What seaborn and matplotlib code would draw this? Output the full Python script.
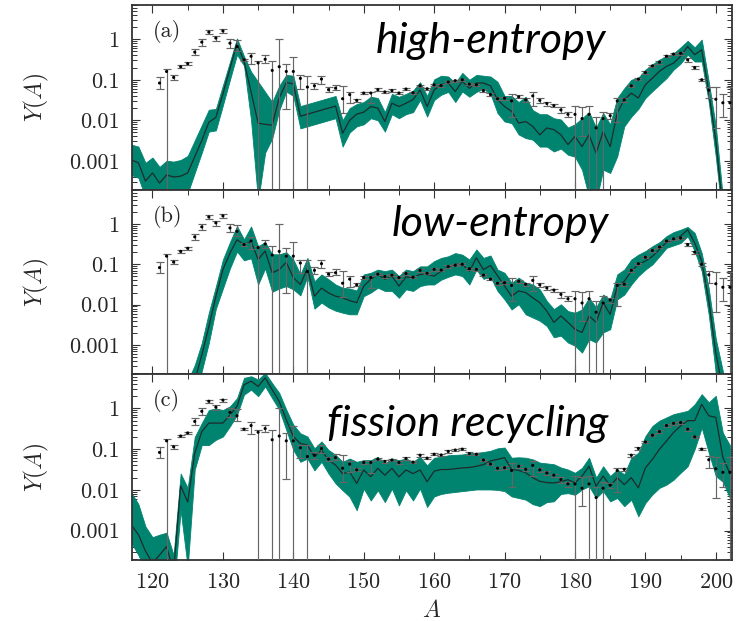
import numpy as np
import pandas as pd
import matplotlib
matplotlib.use("Agg")
import matplotlib.pyplot as plt
import seaborn as sns
from matplotlib.ticker import FixedLocator, LogLocator, NullFormatter, MultipleLocator, FixedFormatter

# ---------------- data ----------------
# solar r-process abundances (same in every panel)
A_solar = list(range(121, 203))
Y_solar = [0.083, 0.16, 0.114, 0.21, 0.25, 0.48, 0.85, 1.5, 1.07, 1.6,
           0.8, 0.66, 0.31, 0.38, 0.26, 0.32, 0.17, 0.21, 0.16, 0.16,
           0.108, 0.066, 0.071, 0.104, 0.057, 0.062, 0.034, 0.043, 0.031, 0.047,
           0.047, 0.057, 0.05, 0.054, 0.047, 0.059, 0.048, 0.071, 0.06, 0.075,
           0.072, 0.088, 0.095, 0.10, 0.078, 0.075, 0.054, 0.043, 0.034, 0.035,
           0.03, 0.038, 0.032, 0.04, 0.031, 0.026, 0.023, 0.018, 0.014, 0.014,
           0.011, 0.014, 0.0065, 0.011, 0.013, 0.03, 0.032, 0.071, 0.104, 0.15,
           0.22, 0.27, 0.38, 0.43, 0.45, 0.31, 0.2, 0.1, 0.055, 0.033,
           0.027, 0.027]
Y_solar_lo = [0.06, 1e-6, 0.10, 0.195, 0.23, 0.40, 0.70, 1.35, 0.90, 1.45,
              0.62, 0.50, 0.29, 0.24, 1e-6, 0.26, 1e-6, 1e-6, 0.019, 1e-6,
              0.06, 1e-6, 0.058, 0.08, 0.05, 0.055, 0.0155, 0.027, 0.029, 0.044,
              0.026, 0.053, 0.046, 0.05, 0.044, 0.055, 0.045, 0.066, 0.056, 0.07,
              0.067, 0.082, 0.089, 0.094, 0.073, 0.07, 0.05, 0.04, 0.031, 0.032,
              0.012, 0.035, 0.029, 0.022, 0.027, 0.023, 0.021, 0.015, 0.012, 1e-6,
              0.004, 1e-6, 1e-6, 1e-6, 0.011, 0.009, 0.029, 0.066, 0.097, 0.14,
              0.205, 0.25, 0.355, 0.40, 0.42, 0.28, 0.185, 0.093, 0.035, 0.0065,
              0.012, 1e-6]
Y_solar_hi = [0.115, 0.18, 0.13, 0.225, 0.27, 0.57, 1.0, 1.65, 1.20, 1.75,
              1.0, 0.95, 0.33, 0.47, 0.29, 0.40, 0.29, 1.0, 0.25, 0.36,
              0.13, 0.125, 0.085, 0.125, 0.065, 0.075, 0.07, 0.05, 0.034, 0.05,
              0.05, 0.061, 0.054, 0.058, 0.05, 0.063, 0.051, 0.076, 0.064, 0.08,
              0.077, 0.094, 0.101, 0.106, 0.083, 0.08, 0.058, 0.046, 0.037, 0.038,
              0.045, 0.041, 0.035, 0.05, 0.035, 0.029, 0.025, 0.021, 0.016, 0.022,
              0.021, 0.022, 0.012, 0.016, 0.015, 0.035, 0.035, 0.076, 0.111, 0.16,
              0.235, 0.29, 0.405, 0.46, 0.48, 0.34, 0.215, 0.107, 0.068, 0.066,
              0.045, 0.065]

# model mass numbers
A_model = list(range(117, 203))

# panel (a) high-entropy: log10 of median / upper / lower
a_mid = [-2.98, -3.05, -3.5, -3.3, -3.55, -3.35, -3.4, -3.38, -3.3, -2.9,
         -2.5, -2.05, -1.93, -1.35, -0.72, -0.1, -0.55, -1.3, -2.07, -2.1,
         -2.12, -1.45, -1.07, -1.1, -1.9, -1.85, -1.8, -1.75, -1.7, -1.65,
         -2.32, -2.0, -1.85, -1.8, -1.66, -1.7, -2.03, -1.58, -1.66, -1.58,
         -1.49, -1.25, -1.66, -1.25, -1.12, -1.08, -1.29, -1.04, -1.21, -1.08,
         -1.08, -1.15, -1.49, -1.66, -1.78, -2.07, -2.03, -2.15, -2.36, -2.19,
         -2.23, -2.36, -2.6, -2.4, -2.65, -2.36, -2.81, -2.28, -2.65, -1.82,
         -1.49, -1.33, -1.45, -1.12, -0.96, -0.79, -0.67, -0.59, -0.42, -0.18,
         -0.38, -0.26, -1.3, -2.5, -4.2, -5.0]
a_hi = [-2.6, -2.65, -3.05, -2.92, -3.15, -3.0, -3.02, -2.98, -2.88, -2.5,
        -2.12, -1.74, -1.72, -1.14, -0.56, 0.02, -0.42, -0.8, -1.05, -1.3,
        -1.55, -1.15, -0.88, -0.9, -1.65, -1.6, -1.55, -1.5, -1.45, -1.4,
        -2.0, -1.7, -1.6, -1.55, -1.42, -1.45, -1.8, -1.35, -1.42, -1.35,
        -1.27, -1.06, -1.4, -0.99, -0.9, -0.92, -1.08, -0.83, -1.0, -0.88,
        -0.9, -0.92, -1.05, -1.4, -1.4, -1.55, -1.42, -1.75, -1.85, -1.85,
        -1.95, -1.98, -2.18, -2.1, -1.95, -1.8, -2.18, -1.82, -2.1, -1.45,
        -1.21, -1.0, -0.95, -0.75, -0.62, -0.5, -0.42, -0.35, -0.2, -0.04,
        -0.2, -0.01, -1.05, -2.15, -3.9, -4.7]
a_lo = [-3.35, -3.42, -3.9, -3.8, -3.95, -3.85, -3.9, -3.85, -3.8, -3.3,
        -2.8, -2.28, -2.25, -1.63, -1.0, -0.38, -0.65, -2.0, -4.0, -2.8,
        -2.45, -1.75, -1.29, -1.4, -2.2, -2.15, -2.1, -2.05, -2.0, -1.95,
        -2.65, -2.3, -2.15, -2.1, -1.95, -2.0, -2.28, -1.85, -1.95, -1.85,
        -1.8, -1.5, -1.91, -1.5, -1.37, -1.3, -1.55, -1.29, -1.42, -1.3,
        -1.22, -1.35, -1.82, -2.03, -2.07, -2.35, -2.44, -2.48, -2.65, -2.65,
        -2.77, -2.7, -2.85, -2.9, -3.22, -3.9, -4.0, -3.22, -3.3, -2.89,
        -2.15, -1.91, -1.72, -1.45, -1.28, -1.12, -0.96, -0.75, -0.6, -0.38,
        -0.55, -0.55, -1.55, -2.9, -4.5, -5.3]

# panel (b) low-entropy
b_mid = [-6.0, -6.0, -6.0, -6.0, -6.0, -5.9, -5.5, -4.9, -4.3, -3.9,
         -3.25, -2.55, -1.8, -1.13, -0.72, -0.39, -0.51, -0.43, -0.88, -0.67,
         -1.21, -1.13, -0.95, -1.33, -1.5, -1.1, -1.79, -1.59, -1.71, -1.79,
         -1.83, -1.9, -1.95, -1.54, -1.37, -1.25, -1.37, -1.29, -1.54, -1.31,
         -1.33, -1.25, -1.25, -1.29, -1.17, -1.06, -1.0, -1.0, -1.17, -0.84,
         -1.13, -1.03, -1.28, -1.54, -1.79, -1.66, -1.7, -1.83, -1.95, -2.16,
         -2.44, -2.28, -2.44, -2.61, -2.69, -2.28, -2.44, -1.95, -2.24, -1.54,
         -1.42, -1.17, -1.0, -0.92, -0.8, -0.63, -0.45, -0.39, -0.3, -0.14,
         -0.47, -0.92, -1.9, -3.2, -4.1, -5.0]
b_hi = [-5.6, -5.6, -5.6, -5.6, -5.6, -5.5, -5.1, -4.5, -3.9, -3.5,
        -2.95, -2.2, -1.55, -0.88, -0.45, -0.05, -0.38, -0.06, -0.55, -0.45,
        -0.75, -0.75, -0.7, -0.88, -1.25, -0.84, -1.42, -1.25, -1.37, -1.5,
        -1.58, -1.6, -1.65, -1.25, -1.21, -1.13, -1.17, -1.13, -1.29, -1.13,
        -1.17, -1.05, -1.05, -0.92, -0.84, -0.8, -0.72, -0.76, -0.88, -0.63,
        -0.84, -0.78, -1.13, -1.21, -1.46, -1.33, -1.46, -1.5, -1.62, -1.91,
        -2.11, -1.99, -2.16, -2.2, -2.12, -1.83, -2.07, -1.75, -1.87, -1.25,
        -1.13, -0.88, -0.76, -0.67, -0.55, -0.45, -0.3, -0.2, -0.14, -0.07,
        -0.22, -0.72, -1.6, -2.85, -3.65, -4.5]
b_lo = [-6.4, -6.4, -6.4, -6.4, -6.4, -6.3, -5.9, -5.3, -4.7, -4.3,
        -3.65, -2.95, -2.1, -1.6, -1.1, -0.68, -0.9, -0.85, -1.5, -1.1,
        -1.68, -1.6, -1.54, -1.62, -1.77, -1.3, -2.1, -1.95, -2.07, -2.15,
        -2.2, -2.24, -2.24, -1.79, -1.7, -1.58, -1.66, -1.66, -1.83, -1.62,
        -1.66, -1.54, -1.5, -1.5, -1.38, -1.31, -1.25, -1.29, -1.5, -1.13,
        -1.36, -1.31, -1.66, -1.87, -2.12, -1.99, -2.24, -2.32, -2.4, -2.53,
        -2.81, -2.77, -2.94, -3.02, -3.19, -2.86, -2.94, -2.69, -2.61, -1.87,
        -1.75, -1.5, -1.29, -1.13, -1.0, -0.8, -0.59, -0.53, -0.47, -0.3,
        -0.67, -1.17, -2.25, -3.7, -4.6, -5.5]

# panel (c) fission recycling
c_mid = [-2.86, -3.1, -3.5, -3.8, -3.6, -3.39, -4.0, -1.9, -2.3, -1.1,
         -0.57, -0.36, -0.36, -0.36, -0.16, 0.05, 0.58, 0.67, 0.54, 0.75,
         0.46, 0.17, -0.28, -0.69, -0.86, -0.9, -1.19, -1.02, -1.27, -1.39,
         -1.6, -1.56, -1.84, -1.51, -1.68, -1.47, -1.64, -1.47, -1.68, -1.51,
         -1.6, -1.51, -1.8, -1.54, -1.5, -1.5, -1.48, -1.46, -1.45, -1.42,
         -1.38, -1.29, -1.25, -1.21, -1.5, -1.52, -1.58, -1.7, -1.79, -1.82,
         -1.83, -1.8, -1.75, -1.83, -1.66, -1.42, -1.91, -1.66, -1.91, -1.7,
         -1.87, -1.7, -1.95, -1.46, -1.25, -1.0, -0.8, -0.59, -0.43, -0.3,
         -0.3, 0.1, -0.18, -0.22, -1.2, -1.6]
c_hi = [-2.07, -2.35, -2.9, -3.16, -3.1, -3.05, -3.6, -1.6, -1.95, -0.7,
        -0.36, -0.04, 0.0, -0.04, 0.05, 0.25, 0.75, 0.79, 0.71, 0.87,
        0.62, 0.38, -0.03, -0.4, -0.61, -0.69, -0.98, -0.81, -1.02, -1.14,
        -1.31, -1.23, -1.31, -1.27, -1.27, -1.19, -1.35, -1.23, -1.27, -1.23,
        -1.31, -1.19, -1.4, -1.21, -1.19, -1.15, -1.14, -1.13, -1.1, -1.09,
        -1.07, -1.04, -0.98, -0.96, -1.21, -1.2, -1.21, -1.25, -1.33, -1.35,
        -1.37, -1.45, -1.5, -1.58, -1.46, -1.21, -1.7, -1.42, -1.66, -1.5,
        -1.62, -1.21, -1.09, -0.68, -0.43, -0.3, -0.22, -0.14, -0.1, -0.06,
        0.1, 0.35, 0.15, 0.31, -0.6, -0.9]
c_lo = [-3.3, -3.6, -4.0, -4.2, -4.1, -4.0, -4.5, -2.5, -3.9, -1.5,
        -0.9, -0.9, -0.77, -0.69, -0.44, -0.16, 0.34, 0.46, 0.3, 0.54,
        0.25, -0.03, -0.53, -1.02, -1.31, -1.23, -1.52, -1.31, -1.6, -1.84,
        -2.01, -2.17, -2.5, -1.97, -2.26, -2.01, -2.3, -1.97, -2.38, -2.01,
        -2.26, -1.97, -2.42, -2.16, -2.1, -2.07, -2.05, -2.03, -2.01, -1.99,
        -1.99, -1.99, -2.0, -2.03, -2.16, -2.2, -2.24, -2.35, -2.4, -2.3,
        -2.28, -2.1, -2.08, -2.12, -1.99, -1.91, -2.2, -2.03, -2.28, -2.2,
        -2.4, -2.24, -2.65, -2.32, -2.11, -1.95, -1.87, -1.75, -1.58, -1.42,
        -1.0, -0.47, -1.09, -1.66, -1.8, -2.2]

panel_tags = ["(a)", "(b)", "(c)"]
panel_titles = ["high-entropy", "low-entropy", "fission recycling"]
ytick_vals = [0.001, 0.01, 0.1, 1]
ytick_labels = ["0.001", "0.01", "0.1", "1"]
xtick_vals = [120, 130, 140, 150, 160, 170, 180, 190, 200]

# ---------------- style ----------------
sns.set_theme(style="white")
plt.rcParams["font.family"] = ["cmr10", "DejaVu Serif"]
plt.rcParams["mathtext.fontset"] = "cm"
plt.rcParams["axes.formatter.use_mathtext"] = True

TEAL = "#008470"
LINE = "#1d2b2b"
BAR = "#666666"

fig = plt.figure(figsize=(7.37, 6.21), dpi=100)
W, H = 737.0, 621.0
left, right = 132 / W, 732 / W
bounds = [(5, 190), (190, 374), (374, 560)]
axes = []
for (t, b) in bounds:
    ax = fig.add_axes([left, 1 - b / H, right - left, (b - t) / H])
    axes.append(ax)

models = [(a_mid, a_hi, a_lo), (b_mid, b_hi, b_lo), (c_mid, c_hi, c_lo)]
title_pos = [(0.406, 0.742), (0.433, 0.752), (0.325, 0.668)]

Ys = np.array(Y_solar)
yerr = [Ys - np.array(Y_solar_lo), np.array(Y_solar_hi) - Ys]

for i, ax in enumerate(axes):
    mid, hi, lo = models[i]
    df = pd.DataFrame({"A": A_model,
                       "mid": 10 ** np.array(mid),
                       "hi": 10 ** np.array(hi),
                       "lo": 10 ** np.array(lo)})
    ax.set_yscale("log")
    ax.fill_between(df["A"], df["lo"], df["hi"], color=TEAL, lw=0.6,
                    edgecolor=TEAL, zorder=1)
    sns.lineplot(data=df, x="A", y="mid", ax=ax, color=LINE, lw=0.9,
                 zorder=2, estimator=None)
    ax.errorbar(A_solar, Y_solar, yerr=yerr, fmt="none", ecolor=BAR,
                elinewidth=0.85, capsize=2.6, capthick=0.85, zorder=3)
    sns.scatterplot(x=A_solar, y=Y_solar, ax=ax, color="black", s=5,
                    edgecolor="none", zorder=4)

    ax.set_xlim(117.09, 202.3)
    ax.set_ylim(1.9e-4, 7)
    ax.yaxis.set_major_locator(FixedLocator(ytick_vals))
    ax.yaxis.set_major_formatter(FixedFormatter(ytick_labels))
    ax.yaxis.set_minor_locator(LogLocator(base=10, subs=np.arange(2, 10), numticks=20))
    ax.yaxis.set_minor_formatter(NullFormatter())
    ax.xaxis.set_major_locator(FixedLocator(xtick_vals))
    ax.xaxis.set_minor_locator(MultipleLocator(5))
    ax.tick_params(which="both", direction="in", top=True, right=True,
                   bottom=True, left=True, color="#333333")
    ax.tick_params(which="major", length=6, width=0.8, labelsize=16, pad=9)
    ax.tick_params(which="minor", length=3.5, width=0.7)
    for s in ax.spines.values():
        s.set_color("#333333")
        s.set_linewidth(1.3)
    ax.set_ylabel("$Y(A)$", fontsize=17)
    ax.yaxis.set_label_coords(-0.135, 0.5)
    if i < 2:
        ax.tick_params(labelbottom=False)
        ax.set_xlabel("")
    else:
        ax.set_xlabel("$A$", fontsize=17, labelpad=5)
    ax.text(0.035, 0.855, panel_tags[i], transform=ax.transAxes, fontsize=16,
            ha="left", va="center")
    tx, ty = title_pos[i]
    ax.text(tx, ty, panel_titles[i], transform=ax.transAxes, fontsize=31,
            family="Lato", style="italic", ha="left", va="baseline",
            color="black", zorder=6)

fig.savefig("out.png", dpi=100)
